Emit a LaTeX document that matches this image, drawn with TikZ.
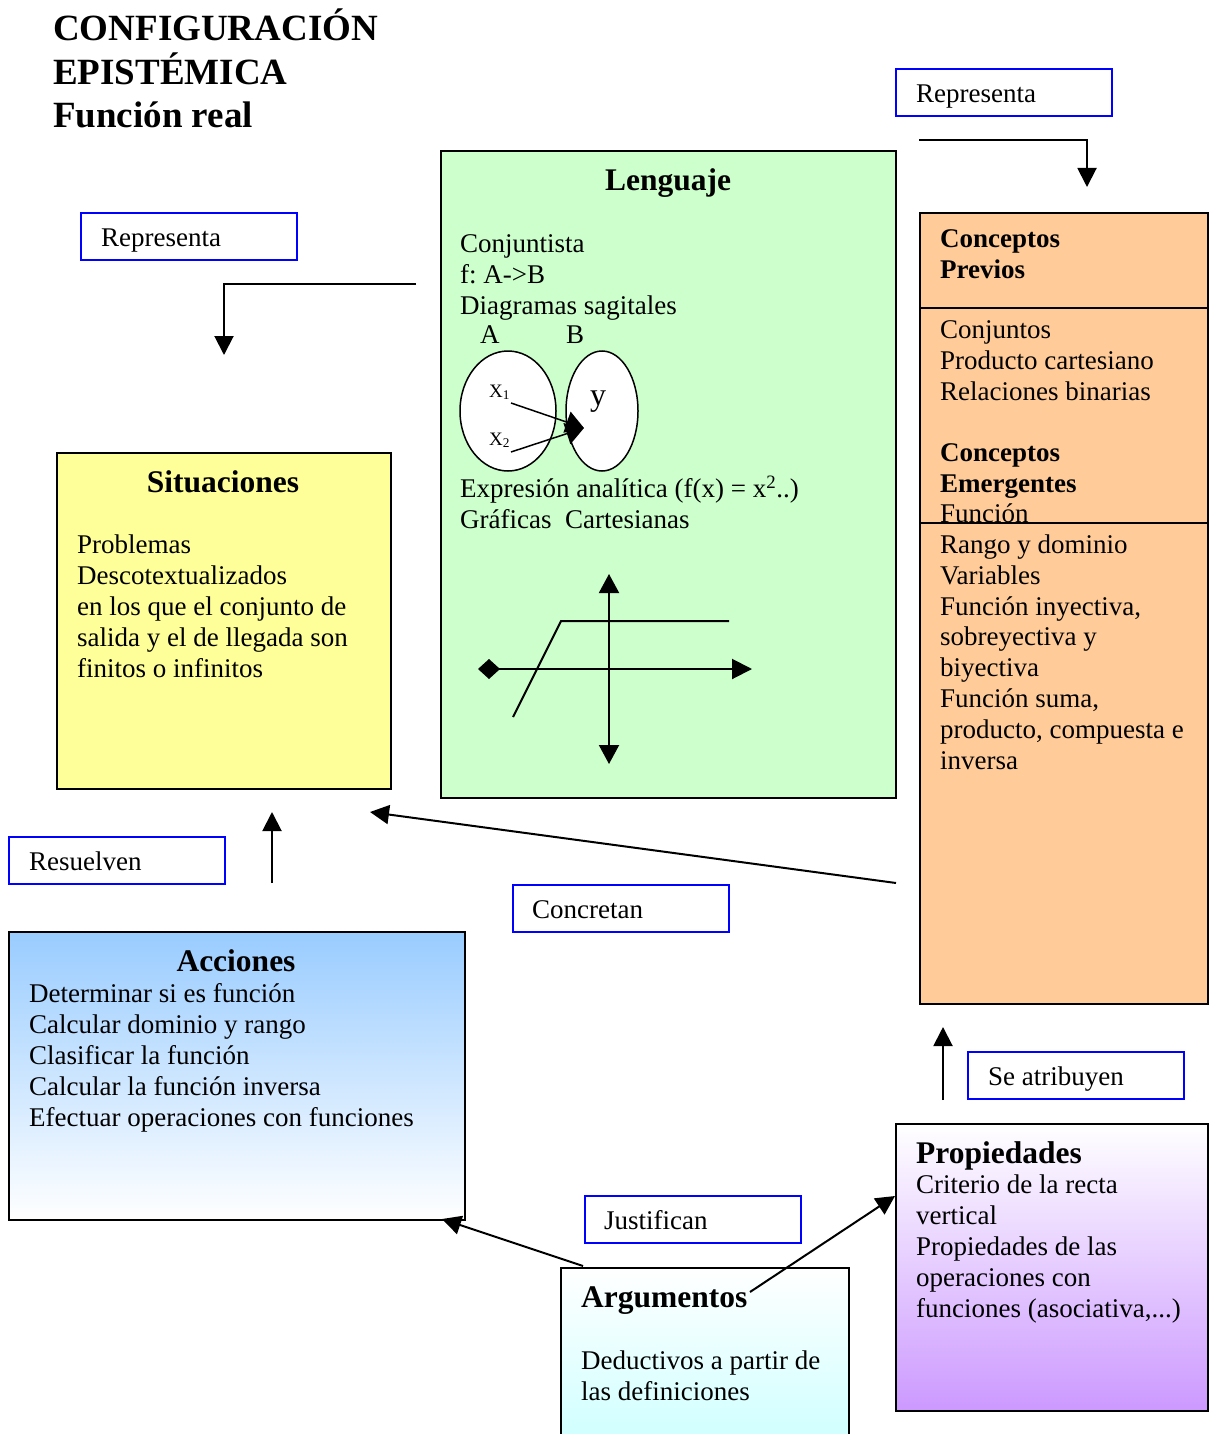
\documentclass[tikz,border=0pt]{standalone}
\usepackage{fontspec}
\setmainfont{Liberation Serif}
\usetikzlibrary{arrows.meta,shapes.geometric}
\definecolor{lgreen}{HTML}{CCFFCC}
\definecolor{lyellow}{HTML}{FFFF99}
\definecolor{lorange}{HTML}{FFCC99}
\definecolor{lblue}{HTML}{99CCFF}
\definecolor{lcyan}{HTML}{CCFFFF}
\definecolor{lviolet}{HTML}{CC99FF}
\definecolor{labblue}{HTML}{0000FF}
\frenchspacing
\begin{document}
\begin{tikzpicture}[x=1pt,y=-1pt,
  box/.style={draw=black, line width=2pt, rectangle, inner sep=0, anchor=north west},
  labbox/.style={draw=labblue, line width=2pt, rectangle, inner sep=0, anchor=north west, minimum width=216pt, minimum height=47pt},
  body/.style={anchor=base west, align=left, inner sep=0, font=\fontsize{27}{30.8}\selectfont},
  head/.style={anchor=base, inner sep=0, font=\fontsize{31.5}{36}\selectfont\bfseries},
  headl/.style={anchor=base west, inner sep=0, font=\fontsize{31.5}{36}\selectfont\bfseries},
  arr/.style={line width=2pt, -{Triangle[length=19pt,width=19pt]}}
]
\useasboundingbox (0,0) rectangle (1209,1434);
\fill[white] (0,0) rectangle (1209,1434);

% Title (base anchor = baseline of last line)
\node[anchor=base west, align=left, inner sep=0, font=\fontsize{37}{43.5}\selectfont\bfseries] (title) at (53,128) {CONFIGURACIÓN\\EPISTÉMICA\\Función real};

% Label boxes
\node[labbox] (repl) at (80,212) {};
\node[body] (replt) at (101,246) {Representa};
\node[labbox] (repr) at (895,68) {};
\node[body] (reprt) at (916,103) {Representa};
\node[labbox] (resu) at (8,836) {};
\node[body] (resut) at (29,870) {Resuelven};
\node[labbox] (conc) at (512,884) {};
\node[body] (conct) at (532,918) {Concretan};
\node[labbox] (atri) at (967,1051) {};
\node[body] (atrit) at (988,1085) {Se atribuyen};
\node[labbox] (just) at (584,1195) {};
\node[body] (justt) at (604,1229) {Justifican};

% Lenguaje
\node[box, fill=lgreen, minimum width=455pt, minimum height=647pt] (leng) at (440,150) {};
\node[head] (lenghead) at (668,190) {Lenguaje};
\node[body] (lengtxt) at (460,314) {Conjuntista\\f: A->B\\Diagramas sagitales};
\node[body] (setAl) at (480,343) {A};
\node[body] (setBl) at (566,343) {B};
\node[ellipse, draw, fill=white, line width=1.5pt, minimum width=96pt, minimum height=120pt, inner sep=0] (setA) at (508,411) {};
\node[ellipse, draw, fill=white, line width=1.5pt, minimum width=72pt, minimum height=120pt, inner sep=0] (setB) at (602,411) {};
\node[anchor=base west, inner sep=0, font=\fontsize{19}{22}\selectfont] (xone) at (489,397) {X\textsubscript{1}};
\node[anchor=base west, inner sep=0, font=\fontsize{19}{22}\selectfont] (xtwo) at (489,445) {X\textsubscript{2}};
\node[anchor=base, inner sep=0, font=\fontsize{32}{36}\selectfont] (yel) at (598,405) {y};
\coordinate (xonea) at (511,403);
\coordinate (xtwoa) at (511,452);
\coordinate (ytip) at (584,428);
\draw[line width=1.5pt, -{Triangle[length=18pt,width=22pt]}] (xonea) -- (ytip);
\draw[line width=1.5pt, -{Triangle[length=18pt,width=22pt]}] (xtwoa) -- (ytip);
\node[body] (lengtxt2) at (460,528) {Expresión analítica (f(x) = x\textsuperscript{2}..)\\Gráficas\ \ Cartesianas};

% Cartesian graph
\coordinate (vtop) at (609,574);
\coordinate (vbot) at (609,764);
\coordinate (hleft) at (478,669);
\coordinate (hright) at (752,669);
\draw[line width=2pt, {Triangle[length=19pt,width=20pt]}-{Triangle[length=19pt,width=20pt]}] (vbot) -- (vtop);
\draw[line width=2pt, {Diamond[length=22pt,width=20pt]}-{Triangle[length=20pt,width=20pt]}] (hleft) -- (hright);
\coordinate (fa) at (513,717);
\coordinate (fb) at (561,621);
\coordinate (fc) at (729,621);
\draw[line width=2pt] (fa) -- (fb) -- (fc);

% Situaciones
\node[box, fill=lyellow, minimum width=334pt, minimum height=336pt] (sit) at (56,452) {};
\node[head] (sithead) at (223,492) {Situaciones};
\node[body] (sittxt) at (77,677) {Problemas\\Descotextualizados\\en los que el conjunto de\\salida y el de llegada son\\finitos o infinitos};

% Conceptos
\node[box, fill=lorange, minimum width=288pt, minimum height=791pt] (concep) at (919,212) {};
\node[body, font=\fontsize{27}{30.5}\selectfont\bfseries] (prevh) at (940,278) {Conceptos\\Previos};
\node[body] (prevt) at (940,400) {Conjuntos\\Producto cartesiano\\Relaciones binarias};
\node[body, font=\fontsize{27}{30.5}\selectfont\bfseries] (emerh) at (940,492) {Conceptos\\Emergentes};
\node[body] (func) at (940,522) {Función};
\coordinate (d1l) at (919,308);
\coordinate (d1r) at (1207,308);
\coordinate (d2l) at (919,523);
\coordinate (d2r) at (1207,523);
\draw[line width=2pt] (d1l) -- (d1r);
\draw[line width=2pt] (d2l) -- (d2r);
\node[body] (emert) at (940,769) {Rango y dominio\\Variables\\Función inyectiva,\\sobreyectiva y\\biyectiva\\Función suma,\\producto, compuesta e\\inversa};

% Acciones
\node[box, top color=lblue, bottom color=white, minimum width=456pt, minimum height=288pt] (acc) at (8,931) {};
\node[head] (acchead) at (236,971) {Acciones};
\node[body] (acctxt) at (29,1126) {Determinar si es función\\Calcular dominio y rango\\Clasificar la función\\Calcular la función inversa\\Efectuar operaciones con funciones};

% Argumentos
\node[box, top color=white, bottom color=lcyan, minimum width=288pt, minimum height=185pt] (arg) at (560,1267) {};
\node[headl] (arghead) at (581,1307) {Argumentos};
\node[body] (argtxt) at (581,1400) {Deductivos a partir de\\las definiciones};

% Propiedades
\node[box, top color=white, bottom color=lviolet, minimum width=312pt, minimum height=287pt] (prop) at (895,1123) {};
\node[headl] (prophead) at (916,1163) {Propiedades};
\node[body] (proptxt) at (916,1317) {Criterio de la recta\\vertical\\Propiedades de las\\operaciones con\\funciones (asociativa,...)};

% Connectors
\coordinate (a1s) at (416,284);
\coordinate (a1c) at (224,284);
\coordinate (a1e) at (224,355);
\draw[arr] (a1s) -- (a1c) -- (a1e);
\coordinate (a2s) at (919,140);
\coordinate (a2c) at (1087,140);
\coordinate (a2e) at (1087,187);
\draw[arr] (a2s) -- (a2c) -- (a2e);
\coordinate (a3s) at (272,883);
\coordinate (a3e) at (272,812);
\draw[arr] (a3s) -- (a3e);
\coordinate (a4s) at (896,883);
\coordinate (a4e) at (370,812);
\draw[arr] (a4s) -- (a4e);
\coordinate (a5s) at (943,1100);
\coordinate (a5e) at (943,1027);
\draw[arr] (a5s) -- (a5e);
\coordinate (a6s) at (583,1266);
\coordinate (a6e) at (442,1219);
\draw[arr] (a6s) -- (a6e);
\coordinate (a7s) at (750,1292);
\coordinate (a7e) at (895,1196);
\draw[arr] (a7s) -- (a7e);
\end{tikzpicture}
\end{document}
